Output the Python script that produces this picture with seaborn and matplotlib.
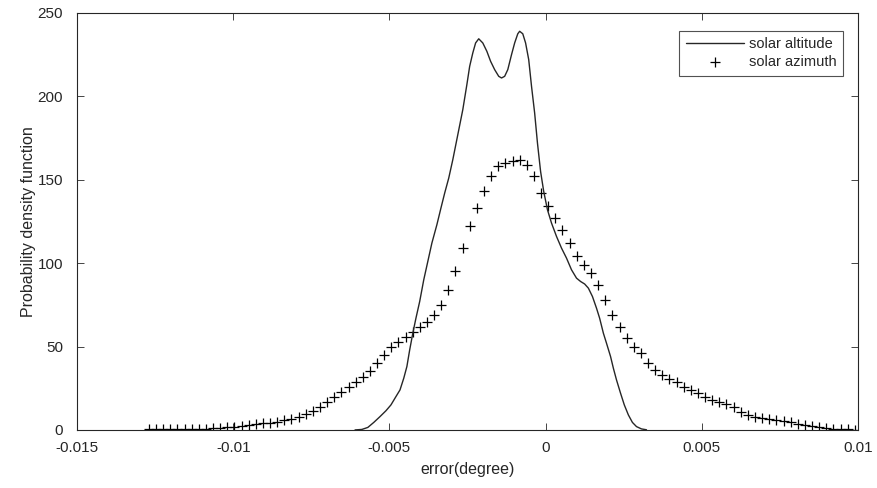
import numpy as np
import pandas as pd
import seaborn as sns
import matplotlib
matplotlib.use("Agg")
import matplotlib.pyplot as plt

# solar altitude error density (line), x in 1e-3 degree
alt_x = [-6.10, -5.88, -5.69, -5.50, -5.30, -5.11, -4.95, -4.79, -4.66, -4.54,
         -4.44, -4.35, -4.25, -4.15, -4.03, -3.90, -3.77, -3.64, -3.48, -3.35,
         -3.23, -3.10, -2.97, -2.81, -2.65, -2.52, -2.43, -2.33, -2.24, -2.14,
         -2.01, -1.88, -1.76, -1.63, -1.50, -1.41, -1.31, -1.21, -1.09, -0.99,
         -0.89, -0.83, -0.73, -0.64, -0.54, -0.45, -0.35, -0.26, -0.16, -0.06,
         0.06, 0.19, 0.35, 0.51, 0.67, 0.83, 0.99, 1.12, 1.25, 1.37,
         1.50, 1.63, 1.73, 1.85, 1.95, 2.08, 2.17, 2.27, 2.40, 2.52,
         2.65, 2.78, 2.91, 3.07, 3.23]
alt_y = [0, 0.3, 1.5, 4.5, 8, 11.5, 15, 20, 24, 31,
         38, 48, 58, 67, 77, 90, 101, 112, 123, 133,
         142, 151, 162, 177, 192, 207, 218, 226, 232, 234.5,
         232, 227, 221, 216, 212, 211, 212, 216, 225, 232,
         237.5, 239, 237.5, 232, 222, 206, 190, 172, 155, 143,
         132, 124, 116, 109, 103, 96, 91, 89, 87.5, 85,
         80, 73, 67, 58, 52, 44, 37, 30, 22, 15,
         9, 4.5, 2, 0.6, 0.1]

# solar azimuth error density (markers) on a uniform 100-point grid
az_start, az_end, az_n = -0.0127, 0.0099, 100
az_y = [0.3, 0.3, 0.3, 0.4, 0.4, 0.5, 0.6, 0.7, 0.8, 1.0,
        1.3, 1.6, 2.0, 2.4, 2.9, 3.4, 3.9, 4.4, 5.0, 5.8,
        6.8, 8.0, 9.6, 11.5, 13.8, 16.5, 19.5, 22.5, 25.5, 28.5,
        32, 35.5, 40, 45, 49.5, 53, 56, 59, 62, 65,
        69, 75, 84, 95, 109, 122, 133, 143, 152, 158,
        160, 161, 162, 159, 152, 142, 134, 127, 120, 112,
        104, 99, 94, 87, 78, 69, 62, 55, 50, 46,
        40, 36, 33, 30.5, 28.5, 26, 24, 22, 20, 18,
        17, 15.5, 13.5, 11, 9, 8, 7, 6.3, 5.7, 5.1,
        4.6, 3.8, 3.0, 2.3, 1.6, 1.0, 0.6, 0.4, 0.3, 0.2]

x_ticks = [-0.015, -0.01, -0.005, 0, 0.005, 0.01]
x_tick_labels = ['-0.015', '-0.01', '-0.005', '0', '0.005', '0.01']
y_ticks = [0, 50, 100, 150, 200, 250]

df_alt = pd.DataFrame({"x": np.array(alt_x) / 1000.0, "y": alt_y})
df_az = pd.DataFrame({"x": np.linspace(az_start, az_end, az_n), "y": az_y})

sns.set_theme(style="ticks")
plt.rcParams['font.family'] = ['Liberation Sans', 'DejaVu Sans']
plt.rcParams['axes.unicode_minus'] = False

fig = plt.figure(figsize=(8.77, 4.88), dpi=100)
ax = fig.add_axes([0.0878, 0.119, 0.8905, 0.8545])

sns.lineplot(data=df_alt, x="x", y="y", ax=ax, color="#262626", linewidth=1.0,
             label="solar altitude", sort=False)
sns.scatterplot(data=df_az, x="x", y="y", ax=ax, marker="+", color="black",
                s=60, linewidth=0.9, label="solar azimuth")

ax.set_xlim(-0.015, 0.01)
ax.set_ylim(0, 250)
ax.set_xticks(x_ticks)
ax.set_xticklabels(x_tick_labels)
ax.set_yticks(y_ticks)
ax.tick_params(direction="in", length=5, width=0.6, top=True, right=True,
               labelsize=11, colors="#262626", labelcolor="#262626")
ax.tick_params(axis="x", pad=8)
ax.tick_params(axis="y", pad=10)
for sp in ax.spines.values():
    sp.set_visible(True)
    sp.set_linewidth(0.8)
    sp.set_color("#262626")

ax.set_xlabel("error(degree)", fontsize=11.5, color="#262626", labelpad=5)
ax.set_ylabel("Probability density function", fontsize=11.5, color="#262626", labelpad=1)

leg = ax.legend(loc="upper right", bbox_to_anchor=(0.981, 0.957), borderaxespad=0,
                fancybox=False, frameon=True, edgecolor="#262626", fontsize=10.5,
                handlelength=4.0, handletextpad=0.35, borderpad=0.45, labelspacing=0.25)
leg.get_frame().set_linewidth(0.8)

fig.savefig("out.png", dpi=100)
